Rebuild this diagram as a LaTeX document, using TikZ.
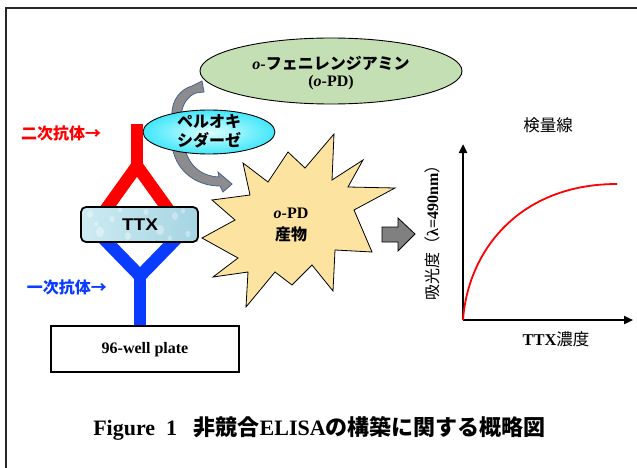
\documentclass[tikz,border=0pt]{standalone}
\usepackage{fontspec}
\setmainfont{Liberation Serif}
\newfontfamily\jp{Noto Sans CJK JP}
\newfontfamily\sansbold{Liberation Sans}
\usetikzlibrary{arrows.meta,shapes.geometric}

\definecolor{substrategreen}{RGB}{196,223,180}
\definecolor{cyinner}{RGB}{225,255,255}
\definecolor{cymid}{RGB}{120,240,252}
\definecolor{cyouter}{RGB}{0,218,250}
\definecolor{bendfill}{RGB}{140,140,142}
\definecolor{bendline}{RGB}{72,100,140}
\definecolor{burst}{RGB}{253,227,160}
\definecolor{abred}{RGB}{255,0,0}
\definecolor{abblue}{RGB}{10,60,255}
\definecolor{iceA}{RGB}{205,235,242}
\definecolor{iceB}{RGB}{165,212,226}
\definecolor{framegray}{RGB}{40,40,40}

\pgfdeclareradialshading{cyanglow}{\pgfpoint{0bp}{0bp}}{%
  color(0bp)=(cyinner); color(16bp)=(cymid); color(36bp)=(cyouter); color(50bp)=(cyouter)}

\newcommand{\fsz}[1]{\fontsize{#1}{#1}\selectfont}

\begin{document}
\begin{tikzpicture}[x=1pt,y=-1pt,
  antibody/.style={line width=12.5pt, line cap=butt, line join=miter},
  platebox/.style={draw=black, line width=1.6pt, fill=white},
  axisline/.style={line width=2.4pt, -{Triangle[length=9pt,width=8pt]}},
  curvedarrow/.style={fill=bendfill, draw=bendline, line width=0.8pt},
  jplabel/.style={font=\fsz{16}\jp\bfseries, inner sep=0pt}]

\useasboundingbox (0,0) rectangle (637,468);
\fill[white] (0,0) rectangle (637,468);

% outer frame
\draw[framegray, line width=1.4pt] (6,490) -- (6,8) -- (660,8);

% substrate o-PD
\node[ellipse, draw=black, line width=0.9pt, fill=substrategreen,
      minimum width=262pt, minimum height=66pt, inner sep=0pt] (opd) at (331,71) {};
\node[font=\fsz{16}\bfseries, inner sep=0pt] (opdname) at (331,63)
  {\textit{o}-{\jp フェニレンジアミン}};
\node[font=\fsz{16}\bfseries, inner sep=0pt] (opdabbr) at (331,83) {(\textit{o}-PD)};

% curved reaction arrows behind the enzyme
\path[curvedarrow] (172,116) .. controls (171,100) and (181,89) .. (192,86)
  -- (202,81) -- (204,92) -- (196,93)
  .. controls (188,96) and (182,104) .. (181,116) -- cycle;
\path[curvedarrow] (172,145) .. controls (175,170) and (195,186) .. (220,186)
  -- (223,192) -- (232,184) -- (218,172) -- (219,177)
  .. controls (200,176) and (188,165) .. (184,145) -- cycle;

% enzyme
\node[ellipse, draw=black, line width=0.9pt, shading=cyanglow,
      minimum width=132pt, minimum height=44pt, inner sep=0pt] (hrp) at (209,132) {};
\node[font=\fsz{16}\jp\bfseries, align=center, inner sep=0pt] (hrptext) at (209,131)
  {ペルオキ\\[2.5pt]シダーゼ};

% product burst
\path[draw=black, line width=0.8pt, fill=burst]
  (243,163) -- (268,182) -- (288,152) -- (305,168) -- (334,134) -- (332,180)
  -- (363,160) -- (348,187) -- (395,188) -- (354,210) -- (372,252) -- (335,250)
  -- (333,291) -- (312,265) -- (292,285) -- (275,272) -- (246,307) -- (248,272)
  -- (213,277) -- (238,258) -- (202,238) -- (235,220) -- (212,200) -- (250,195)
  -- cycle;
\node[font=\fsz{16}\bfseries, inner sep=0pt] (product) at (291,213) {\textit{o}-PD};
\node[font=\fsz{16}\jp\bfseries, inner sep=0pt] (productjp) at (291,234) {産物};

% block arrow to the calibration curve
\path[draw=black, line width=0.8pt, fill=black!50]
  (382,227) -- (398,227) -- (398,218) -- (415,234) -- (398,251) -- (398,242)
  -- (382,242) -- cycle;

% antibodies (drawn under the antigen box)
\draw[antibody, abred] (137,124) -- (137,174);
\draw[antibody, abred] (104,212) -- (137,166) -- (170,212);
\draw[antibody, abblue] (140,326) -- (140,268);
\draw[antibody, abblue] (103,238) -- (140,276) -- (177,238);

% antigen TTX
\begin{scope}
  \clip[rounded corners=5pt] (81,207) rectangle (198,242);
  \shade[left color=iceA, right color=iceB] (81,207) rectangle (198,242);
  \foreach \dx/\dy/\r in {90/214/3, 100/232/4, 112/219/2.5, 128/236/3, 146/212/2.5,
      160/230/4, 175/216/3, 188/234/2.5, 96/224/2, 170/238/2, 183/211/2, 120/210/2}
    \fill[white, opacity=0.35] (\dx,\dy) ellipse [x radius=\r, y radius=1.3*\r];
\end{scope}
\node[draw=black, line width=1.8pt, rounded corners=5pt,
      minimum width=117pt, minimum height=35pt, inner sep=0pt] (ttx) at (139.5,224.5) {};
\node[font=\fsz{17}\sansbold\bfseries, xscale=1.12, inner sep=0pt] (ttxtext) at (140,225) {TTX};

% plate
\node[platebox, minimum width=188pt, minimum height=46pt, inner sep=0pt] (plate) at (145,349) {};
\node[font=\fsz{16}\bfseries, inner sep=0pt] (platetext) at (145,350) {96-well plate};

% antibody labels
\node[jplabel, text=abred] (seclabel) at (61,133) {二次抗体→};
\node[jplabel, text=abblue] (primlabel) at (67,287) {一次抗体→};

% calibration curve
\coordinate (origin) at (463,320);
\coordinate (ytip) at (463,144);
\coordinate (xtip) at (633,320);
\coordinate (curveend) at (617,184);
\draw[axisline] (origin) -- (ytip);
\draw[axisline] (origin) -- (xtip);
\draw[abred, line width=1.8pt] (origin) .. controls (468,250) and (520,184) .. (curveend);
\node[font=\fsz{16.5}\jp, inner sep=0pt] (curvetitle) at (548,125) {検量線};
\node[font=\fsz{16}, rotate=90, inner sep=0pt] (ylabel) at (432,229)
  {{\jp 吸光度（}\textbf{λ=490nm}{\jp ）}};
\node[font=\fsz{16.5}, inner sep=0pt] (xlabel) at (556,339) {\textbf{TTX}{\jp 濃度}};

% caption
\node[font=\fsz{22}\bfseries, inner sep=0pt] (caption) at (319.5,428)
  {Figure\ \ 1\hspace{0.75em}{\jp 非競合}ELISA{\jp の構築に関する概略図}};
\end{tikzpicture}
\end{document}
